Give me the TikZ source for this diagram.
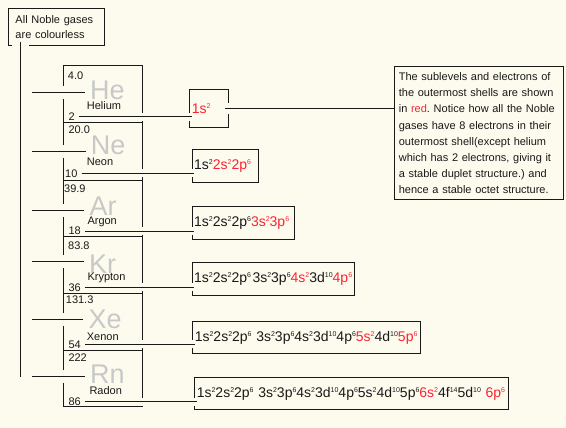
\documentclass[tikz,border=0pt]{standalone}
\usepackage{fontspec}
\setmainfont{Liberation Sans}
\usetikzlibrary{positioning}
\definecolor{paper}{RGB}{253,251,238}
\definecolor{valred}{RGB}{250,35,50}
\definecolor{symgrey}{RGB}{200,200,200}
\definecolor{ink}{RGB}{25,25,25}
\newcommand{\shellsup}[1]{\raisebox{5pt}{\fontsize{7}{7}\selectfont #1}}
\newcommand{\valence}[1]{\textcolor{valred}{#1}}
\frenchspacing

\begin{document}
\begin{tikzpicture}[
  x=1pt, y=-1pt,
  txt/.style={inner sep=0pt, text=ink, font=\fontsize{11}{13}\selectfont},
  mass/.style={txt, anchor=base west},
  elname/.style={txt, anchor=base west},
  num/.style={txt, inner xsep=4pt, anchor=west},
  sym/.style={inner xsep=5pt, inner ysep=0pt, anchor=base west, text=symgrey,
              font=\fontsize{27}{30}\selectfont},
  conf/.style={draw=ink, line width=1pt, anchor=north west, inner xsep=2pt,
               inner ysep=0pt, align=left, text=ink, font=\fontsize{14}{16}\selectfont},
  note/.style={txt, draw=ink, line width=1pt, anchor=north west, align=left},
  frame/.style={draw=ink, line width=1pt},
  link/.style={draw=ink, line width=1pt, preaction={draw=paper, line width=#1}},
  link/.default=8pt,
]
  \fill[paper] (0,0) rectangle (566,428);
  \useasboundingbox (0,0) rectangle (566,428);

  \draw[frame] (63.3,66) rectangle (142.3,122.5);
  \draw[frame] (63.3,122.5) rectangle (142.3,180.5);
  \draw[frame] (63.3,180.5) rectangle (142.3,236);
  \draw[frame] (63.3,236) rectangle (142.3,293.3);
  \draw[frame] (63.3,293.3) rectangle (142.3,350);
  \draw[frame] (63.3,350) rectangle (142.3,406.7);

  \node[note, inner xsep=6.7pt, inner ysep=6.4pt, text width=82.6, minimum height=36.7,
        font=\fontsize{11}{15}\selectfont] (title) at (8.3,8.3) {All Noble gases\\are colourless};

  \node[mass] (mHe) at (67.7,79.3) {4.0};
  \node[sym] (sHe) at (85,99.3) {He};
  \node[elname] (eHe) at (86.7,110) {Helium};
  \node[num] (nHe) at (64.3,116.7) {2};

  \node[mass] (mNe) at (68.3,133.3) {20.0};
  \node[sym] (sNe) at (85.7,154.3) {Ne};
  \node[elname] (eNe) at (86.7,165.7) {Neon};
  \node[num] (nNe) at (61,173.3) {10};

  \node[mass] (mAr) at (64,192.7) {39.9};
  \node[sym] (sAr) at (84.3,215) {Ar};
  \node[elname] (eAr) at (87.3,225) {Argon};
  \node[num] (nAr) at (64.3,231) {18};

  \node[mass] (mKr) at (68,249.3) {83.8};
  \node[sym] (sKr) at (84,273.3) {Kr};
  \node[elname] (eKr) at (87.3,280) {Krypton};
  \node[num] (nKr) at (64.3,287.3) {36};

  \node[mass] (mXe) at (65.7,303.3) {131.3};
  \node[sym] (sXe) at (83.3,328.3) {Xe};
  \node[elname] (eXe) at (86.7,340) {Xenon};
  \node[num] (nXe) at (64.3,344.3) {54};

  \node[mass] (mRn) at (68.3,361.3) {222};
  \node[sym] (sRn) at (85,383.3) {Rn};
  \node[elname] (eRn) at (89.3,394.3) {Radon};
  \node[num] (nRn) at (64.3,401.7) {86};

  \node[conf, minimum width=38.4, text width=34.4, minimum height=38] (cHe) at (189.3,89.3)
    {\valence{1s\shellsup{2}}};
  \node[conf, minimum width=66, text width=62, minimum height=33] (cNe) at (191.7,149.3)
    {1s\shellsup{2}\valence{2s\shellsup{2}2p\shellsup{6}}};
  \node[conf, minimum width=102.6, text width=98.6, minimum height=33] (cAr) at (191.7,206)
    {1s\shellsup{2}2s\shellsup{2}2p\shellsup{6}\valence{3s\shellsup{2}3p\shellsup{6}}};
  \node[conf, minimum width=162.6, text width=158.6, minimum height=32.7] (cKr) at (191.7,262.3)
    {1s\shellsup{2}2s\shellsup{2}2p\shellsup{6}\hspace{1.5pt}3s\shellsup{2}3p\shellsup{6}\valence{4s\shellsup{2}}3d\shellsup{10}\valence{4p\shellsup{6}}};
  \node[conf, minimum width=228, text width=224, minimum height=32.6] (cXe) at (192.3,320.7)
    {1s\shellsup{2}2s\shellsup{2}2p\shellsup{6}~3s\shellsup{2}3p\shellsup{6}4s\shellsup{2}3d\shellsup{10}4p\shellsup{6}\valence{5s\shellsup{2}}4d\shellsup{10}\valence{5p\shellsup{6}}};
  \node[conf, minimum width=314, text width=310, minimum height=32.8] (cRn) at (194.3,376.5)
    {1s\shellsup{2}2s\shellsup{2}2p\shellsup{6}~3s\shellsup{2}3p\shellsup{6}4s\shellsup{2}3d\shellsup{10}4p\shellsup{6}5s\shellsup{2}4d\shellsup{10}5p\shellsup{6}\valence{6s\shellsup{2}}4f\shellsup{14}5d\shellsup{10}~\valence{6p\shellsup{6}}};

  \node[note, inner xsep=4.3pt, inner ysep=6pt, text width=160, minimum width=168.7,
        font=\fontsize{11}{16.2}\selectfont] (expl) at (394,66)
    {The sublevels and electrons of\\the outermost shells are shown\\in \textcolor{valred}{red}. Notice how all the Noble\\gases have 8 electrons in their\\outermost shell(except helium\\which has 2 electrons, giving it\\a stable duplet structure.) and\\hence a stable octet structure.};

  \coordinate (bHe) at (32,92.3);
  \coordinate (bNe) at (32,151.3);
  \coordinate (bAr) at (32,210.7);
  \coordinate (bKr) at (32,261.5);
  \coordinate (bXe) at (32,319.3);
  \coordinate (bRn) at (32,376.7);
  \coordinate (trunkend) at (20.7,377);

  \draw[link=17pt] (title.south west) ++(12.4,-4.3) -- (trunkend);
  \draw[link=13pt] (bHe) -- (bHe -| sHe.west);
  \draw[link=13pt] (bNe) -- (bNe -| sNe.west);
  \draw[link=13pt] (bAr) -- (bAr -| sAr.west);
  \draw[link=13pt] (bKr) -- (bKr -| sKr.west);
  \draw[link=13pt] (bXe) -- (bXe -| sXe.west);
  \draw[link=13pt] (bRn) -- (bRn -| sRn.west);

  \draw[link] (nHe.east) -- (nHe.east -| cHe.text);
  \draw[link] (nNe.east) -- (nNe.east -| cNe.text);
  \draw[link] (nAr.east) -- (nAr.east -| cAr.text);
  \draw[link] (nKr.east) -- (nKr.east -| cKr.text);
  \draw[link] (nXe.east) -- (nXe.east -| cXe.text);
  \draw[link] (nRn.east) -- (nRn.east -| cRn.text);

  \draw[link=11pt] ([xshift=-3.7pt]cHe.east) -- (cHe.east -| expl.west);
\end{tikzpicture}
\end{document}
